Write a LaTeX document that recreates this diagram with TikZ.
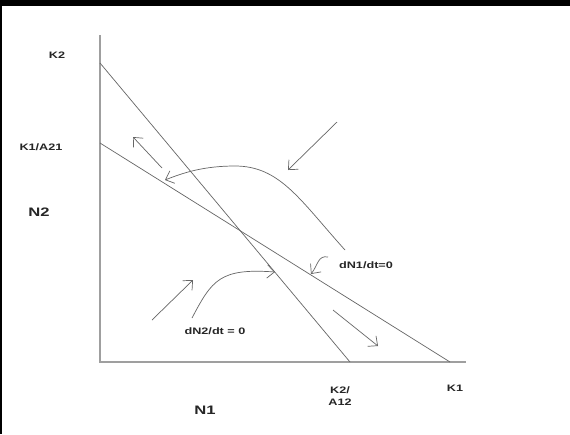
\documentclass[tikz,border=0pt]{standalone}
\usepackage{fontspec}
\setmainfont{Liberation Sans}
\newfontfamily\plotfont[FakeStretch=1.35]{Liberation Sans}
\usetikzlibrary{arrows.meta}

\tikzset{
  axisline/.style={gray!75, line width=1.1pt},
  isocline/.style={gray!80!black, line width=0.6pt},
  flow/.style={gray!80!black, line width=0.6pt, -{Straight Barb[length=2.2mm,width=4mm]}},
  lbl/.style={font=\plotfont\bfseries\fontsize{8}{9}\selectfont, text=black!85, inner sep=0pt},
  axlbl/.style={font=\plotfont\bfseries\fontsize{10.5}{12}\selectfont, text=black!85, inner sep=0pt}
}

\begin{document}
\begin{tikzpicture}[x=0.03cm, y=-0.03cm]
  \useasboundingbox (0,0) rectangle (570,434);
  \fill[white] (0,0) rectangle (570,434);
  \fill[black] (0,0) rectangle (570,6);
  \fill[black] (0,0) rectangle (2,434);

  % axes
  \coordinate (O) at (100,362);
  \draw[axisline] (100,35) -- (O) -- (466,362);

  % isoclines
  \coordinate (k2top) at (100,63);
  \coordinate (k2bot) at (350,362);
  \coordinate (k1top) at (100,143);
  \coordinate (k1bot) at (450,362);
  \draw[isocline] (k2top) -- (k2bot);
  \draw[isocline] (k1top) -- (k1bot);

  % trajectories
  \draw[flow] (345,250) .. controls (300,200) and (280,166) .. (235,166)
                        .. controls (205,166) and (185,172) .. (165,180);
  \draw[flow] (162,168) -- (133,137);
  \draw[flow] (337,122) -- (288,170);
  \draw[flow] (328,257) .. controls (318,255) and (318,265) .. (311,274);
  \draw[flow] (192,318) .. controls (212,280) and (220,268) .. (275,272);
  \draw[flow] (152,320) -- (193,280);
  \draw[flow] (333,310) -- (378,346);

  % labels
  \node[lbl] (lk2) at (57,55) {K2};
  \node[lbl] (lk1a) at (41,147) {K1/A21};
  \node[axlbl] (ln2) at (39,212) {N2};
  \node[axlbl] (ln1) at (205,410) {N1};
  \node[lbl, align=center] (lk2a) at (340,396) {K2/\\[1pt]A12};
  \node[lbl] (lk1) at (455,388) {K1};
  \node[lbl] (ldn1) at (366,265) {dN1/dt=0};
  \node[lbl] (ldn2) at (215,331) {dN2/dt = 0};
\end{tikzpicture}
\end{document}
